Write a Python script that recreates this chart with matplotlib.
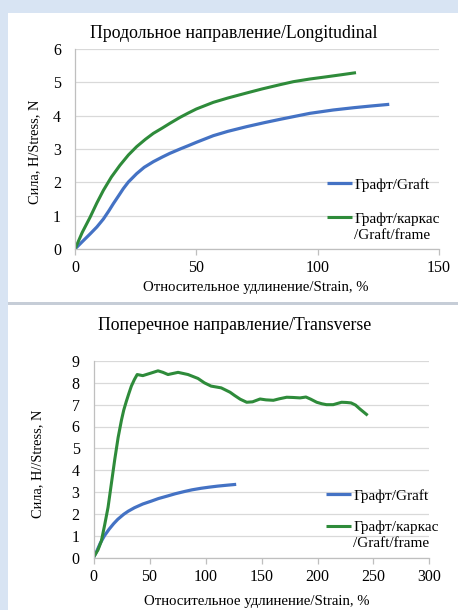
import matplotlib
matplotlib.use("Agg")
import matplotlib.pyplot as plt
from matplotlib.patches import Rectangle

# ---------------- data ----------------
long_graft_x = [0, 3, 6.2, 9, 11.7, 14, 15.8, 18, 19.9, 22, 25.4, 28.5, 32.3, 36, 39.1, 43.3,
                46.7, 50, 57, 63, 70.7, 78, 84.5, 92.7, 96.8, 106.4, 115, 122, 129.5]
long_graft_y = [0, 0.22, 0.45, 0.66, 0.9, 1.15, 1.36, 1.6, 1.81, 2.01, 2.26, 2.45, 2.62, 2.76, 2.87, 3.0,
                3.1, 3.2, 3.4, 3.53, 3.67, 3.79, 3.89, 4.01, 4.07, 4.17, 4.24, 4.29, 4.34]

long_frame_x = [0, 3, 6.2, 9, 11.7, 15, 18.5, 22, 25.4, 29, 32.3, 36, 39.1, 43.3, 46.7,
                50, 57, 63, 70.7, 77, 84.5, 90, 96.8, 103, 110, 115.8]
long_frame_y = [0, 0.5, 0.95, 1.38, 1.76, 2.16, 2.51, 2.82, 3.07, 3.29, 3.47, 3.63, 3.77, 3.95, 4.08,
                4.2, 4.4, 4.53, 4.68, 4.8, 4.93, 5.02, 5.1, 5.16, 5.23, 5.29]

trans_graft_x = [0, 3, 6, 9.8, 14, 18, 21.7, 27, 31, 36.6, 44, 51.5, 58, 66.3, 73, 81,
                 88, 96, 103, 111, 119, 127.4]
trans_graft_y = [0, 0.3, 0.65, 1.0, 1.3, 1.55, 1.75, 1.98, 2.12, 2.28, 2.45, 2.58, 2.7, 2.82, 2.92, 3.02,
                 3.1, 3.17, 3.22, 3.27, 3.31, 3.35]

trans_frame_x = [0, 4, 7, 10, 13, 16, 19, 22, 25, 27, 29.3, 31.5, 33.8, 36.5, 39, 44, 51.5, 57.6,
                 62, 66.5, 75.5, 84.4, 93.3, 99, 105, 114, 121.9, 126, 131, 136.8, 142, 148.7,
                 154, 160.6, 166, 172.5, 178, 184.4, 189.7, 194, 199.3, 204, 208, 214, 221.5,
                 226, 230, 234, 237.9, 244.8]
trans_frame_y = [0, 0.35, 0.75, 1.5, 2.3, 3.4, 4.5, 5.5, 6.3, 6.75, 7.15, 7.5, 7.85, 8.15, 8.38, 8.33, 8.45, 8.55,
                 8.48, 8.38, 8.48, 8.38, 8.2, 8.0, 7.85, 7.77, 7.57, 7.42, 7.25, 7.11, 7.13, 7.26,
                 7.22, 7.2, 7.27, 7.34, 7.33, 7.31, 7.35, 7.25, 7.11, 7.04, 7.0, 7.0, 7.11,
                 7.1, 7.08, 6.98, 6.8, 6.51]

label_graft = "Графт/Graft"
label_frame_1 = "Графт/каркас"
label_frame_2 = "/Graft/frame"
title_top = "Продольное направление/Longitudinal"
title_bottom = "Поперечное направление/Transverse"
xlabel = "Относительное удлинение/Strain, %"
ylabel_top = "Сила, Н/Stress, N"
ylabel_bottom = "Сила, Н//Stress, N"

BLUE = "#4472c4"
GREEN = "#2e8b3a"

plt.rcParams['font.family'] = ['Liberation Serif', 'DejaVu Serif']

W, H = 458, 610
fig = plt.figure(figsize=(W / 100, H / 100), dpi=100, facecolor='#d8e4f3')

def fx(px):
    return px / W

def fy(py):
    return 1 - py / H

fig.patches.append(Rectangle((fx(8), fy(302)), fx(450), 289 / H, transform=fig.transFigure,
                             facecolor='white', edgecolor='none', zorder=-10))
fig.patches.append(Rectangle((fx(8), fy(304.5)), fx(450), 2.5 / H, transform=fig.transFigure,
                             facecolor='#c6cdd7', edgecolor='none', zorder=-10))
fig.patches.append(Rectangle((fx(8), 0), fx(450), 305 / H, transform=fig.transFigure,
                             facecolor='white', edgecolor='none', zorder=-10))

TICK_FS = 11.5
LAB_FS = 10.6
YLAB_FS = 10.4
LEG_FS = 11
TITLE_FS = 12.8


def style(ax, xmax, ymax, xstep, ypad):
    ax.set_facecolor('none')
    ax.set_xlim(0, xmax)
    ax.set_ylim(0, ymax)
    ax.set_xticks(range(0, xmax + 1, xstep))
    ax.set_yticks(range(0, ymax + 1))
    for s in ('top', 'right'):
        ax.spines[s].set_visible(False)
    for s in ('left', 'bottom'):
        ax.spines[s].set_color('#bfbfbf')
        ax.spines[s].set_linewidth(0.9)
    ax.grid(axis='y', color='#d9d9d9', linewidth=0.9)
    ax.set_axisbelow(True)
    ax.tick_params(axis='y', length=0, pad=ypad, labelsize=TICK_FS)
    ax.tick_params(axis='x', length=4, color='#bfbfbf', width=0.9, pad=4, labelsize=TICK_FS)


legends = []


def legend(ax, handles, anchor, spacing):
    leg = ax.legend(handles=handles, labels=[label_graft, label_frame_1], loc='upper left',
                    bbox_to_anchor=anchor, bbox_transform=fig.transFigure, frameon=False,
                    borderpad=0, borderaxespad=0, handlelength=1.65, handletextpad=0.12,
                    labelspacing=spacing, fontsize=LEG_FS)
    legends.append(leg)


# ---- top panel ----
ax1 = fig.add_axes([fx(75), fy(249), fx(439) - fx(75), fy(49) - fy(249)])
style(ax1, 150, 6, 50, 10)
l1, = ax1.plot(long_graft_x, long_graft_y, color=BLUE, lw=2.3, solid_capstyle='butt')
l2, = ax1.plot(long_frame_x, long_frame_y, color=GREEN, lw=2.2, solid_capstyle='butt')
legend(ax1, [l1, l2], (fx(327), fy(178)), 1.33)
fig.text(fx(234), fy(33), title_top, ha='center', va='center', fontsize=TITLE_FS)
fig.text(fx(256), fy(288), xlabel, ha='center', va='center', fontsize=LAB_FS)
fig.text(fx(35), fy(152), ylabel_top, ha='center', va='center', rotation=90, fontsize=YLAB_FS)

# ---- bottom panel ----
ax2 = fig.add_axes([fx(93.5), fy(557.5), fx(429.5) - fx(93.5), fy(361) - fy(557.5)])
style(ax2, 300, 9, 50, 10)
m1, = ax2.plot(trans_graft_x, trans_graft_y, color=BLUE, lw=2.3, solid_capstyle='butt')
m2, = ax2.plot(trans_frame_x, trans_frame_y, color=GREEN, lw=2.2, solid_capstyle='butt')
legend(ax2, [m1, m2], (fx(326), fy(489)), 1.14)
fig.text(fx(235), fy(325), title_bottom, ha='center', va='center', fontsize=TITLE_FS)
fig.text(fx(257), fy(602), xlabel, ha='center', va='center', fontsize=LAB_FS)
fig.text(fx(38), fy(464), ylabel_bottom, ha='center', va='center', rotation=90, fontsize=YLAB_FS)

# second line of the two-line legend label, placed under the first line
fig.canvas.draw()
for leg in legends:
    t = leg.get_texts()[1]
    bb = t.get_window_extent()
    fig.text(bb.x0 / W, (bb.y0 - 3) / H, label_frame_2, ha='left', va='top', fontsize=LEG_FS)

fig.savefig('out.png', dpi=100, facecolor=fig.get_facecolor())
